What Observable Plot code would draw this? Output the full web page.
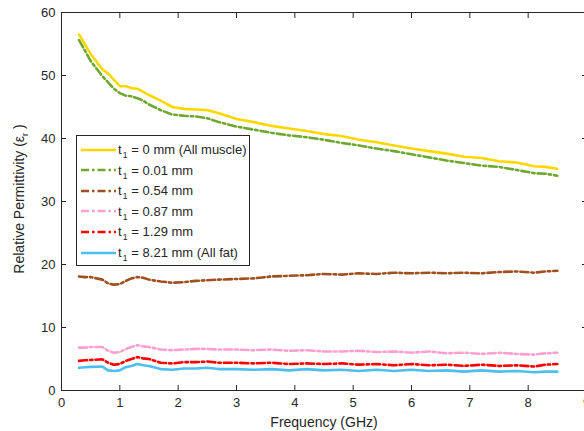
<!DOCTYPE html>
<html><head><meta charset="utf-8">
<script src="https://cdn.jsdelivr.net/npm/d3@7"></script>
<script src="https://cdn.jsdelivr.net/npm/@observablehq/plot@0.6"></script>
<style>
body{margin:0;background:#fff;}
#wrap{position:relative;width:584px;height:431px;}
#legend{position:absolute;left:76px;top:135px;width:174px;height:131px;border:1px solid #262626;background:#fff;font-family:"Liberation Sans",Arial,sans-serif;font-size:13px;color:#262626;box-sizing:border-box;}
.row{position:absolute;left:0;height:20px;display:flex;align-items:center;white-space:nowrap;}
.row svg{margin-left:4px;margin-right:2px;}
.sub{font-size:8.5px;position:relative;top:4px;margin-left:1px;margin-right:4px;}
</style></head>
<body><div id="wrap"></div>
<script>
const freq    = [0.3,0.4,0.5,0.7,0.8,0.9,1.0,1.1,1.2,1.3,1.4,1.5,1.7,1.9,2.1,2.3,2.5,2.7,3.0,3.3,3.6,3.9,4.2,4.5,4.8,5.1,5.4,5.7,6.0,6.3,6.6,6.9,7.2,7.5,7.8,8.1,8.3,8.5];
const muscle  = [56.5,55.0,53.4,51.0,50.3,49.3,48.3,48.3,48.0,47.9,47.4,46.9,46.0,45.0,44.7,44.6,44.5,44.0,43.1,42.6,42.0,41.6,41.2,40.7,40.4,39.8,39.4,38.9,38.4,38.0,37.6,37.1,36.9,36.4,36.2,35.6,35.5,35.2];
const t001    = [55.6,54.0,52.3,49.9,48.9,47.9,47.2,46.8,46.7,46.4,46.0,45.4,44.5,43.8,43.6,43.5,43.2,42.6,41.9,41.4,40.9,40.5,40.2,39.8,39.3,38.9,38.4,38.0,37.5,37.0,36.5,36.1,35.7,35.5,35.0,34.5,34.4,34.1];
const t054    = [18.1,18.0,18.0,17.6,17.0,16.8,16.9,17.4,17.8,18.0,17.9,17.6,17.3,17.1,17.2,17.4,17.5,17.6,17.7,17.8,18.1,18.2,18.3,18.5,18.4,18.6,18.5,18.7,18.6,18.7,18.6,18.7,18.6,18.8,18.9,18.7,18.9,19.0];
const t087    = [6.8,6.8,6.9,6.9,6.3,6.0,6.1,6.6,6.9,7.2,7.0,6.9,6.5,6.4,6.5,6.6,6.6,6.5,6.5,6.4,6.5,6.3,6.4,6.2,6.2,6.3,6.1,6.2,6.0,6.2,5.9,6.0,5.8,6.0,5.8,5.7,5.9,6.0];
const t129    = [4.7,4.8,4.85,4.95,4.4,4.1,4.2,4.7,5.0,5.3,5.1,5.0,4.4,4.3,4.5,4.5,4.6,4.4,4.4,4.3,4.4,4.2,4.3,4.2,4.3,4.1,4.2,4.0,4.2,4.0,4.1,3.9,4.1,3.9,4.0,3.8,4.1,4.2];
const fat     = [3.6,3.7,3.75,3.8,3.2,3.1,3.2,3.7,3.9,4.2,4.0,3.9,3.4,3.3,3.5,3.5,3.6,3.4,3.4,3.3,3.4,3.2,3.4,3.2,3.3,3.1,3.3,3.1,3.3,3.1,3.2,3.0,3.2,3.0,3.1,2.9,3.0,3.0];

const seriesValues = [muscle, t001, t054, t087, t129, fat];
const seriesLabels = ["0 mm (All muscle)", "0.01 mm", "0.54 mm", "0.87 mm", "1.29 mm", "8.21 mm (All fat)"];
const seriesColors = ["#FFD700", "#6FA82E", "#A0501F", "#FF9FD0", "#FF0000", "#4DBEEE"];
const seriesDash   = ["none", "8,3,2.5,3", "8,3,2.5,3", "8,3,2.5,3", "8,3,2.5,3", "none"];
const xTicks = [0,1,2,3,4,5,6,7,8,9];
const yTicks = [0,10,20,30,40,50,60];

const rows = [];
seriesValues.forEach((vals, i) => vals.forEach((v, j) => rows.push({f: freq[j], v, s: i})));

const lineMarks = seriesValues.map((_, i) =>
  Plot.line(rows.filter(d => d.s === i), {
    x: "f", y: "v", stroke: seriesColors[i], strokeWidth: 2.6,
    strokeDasharray: seriesDash[i], strokeLinejoin: "round"
  })
);

const ink = "#262626";
const chart = Plot.plot({
  width: 584, height: 431,
  marginLeft: 61, marginRight: -2, marginTop: 12, marginBottom: 41,
  style: {fontFamily: "'Liberation Sans', Arial, sans-serif", fontSize: "13px", color: ink, background: "white", overflow: "visible"},
  x: {domain: [0, 9]},
  y: {domain: [0, 60]},
  marks: [
    ...lineMarks,
    Plot.frame({stroke: ink}),
    Plot.axisX({ticks: xTicks, tickSize: 0, tickPadding: 7, label: "Frequency (GHz)", labelAnchor: "center", labelArrow: "none", labelOffset: 36, fontSize: 13}),
    Plot.axisX({ticks: xTicks, tickSize: -5, tickFormat: () => "", label: null, stroke: ink}),
    Plot.axisX({anchor: "top", ticks: xTicks, tickSize: -5, tickFormat: () => "", label: null, stroke: ink}),
    Plot.axisY({ticks: yTicks, tickSize: 0, tickPadding: 6, label: null, fontSize: 13}),
    Plot.axisY({ticks: yTicks, tickSize: -5, tickFormat: () => "", label: null, stroke: ink}),
    Plot.axisY({anchor: "right", ticks: yTicks, tickSize: -5, tickFormat: () => "", label: null, stroke: ink})
  ]
});

const wrap = document.getElementById("wrap");
wrap.appendChild(chart);

// x-axis label font size
d3.select(chart).selectAll("g[aria-label='x-axis label'] text").style("font-size", "14px");

// y-axis label with subscript
const yl = d3.select(chart).append("text")
  .attr("transform", "translate(24,199) rotate(-90)")
  .attr("text-anchor", "middle")
  .attr("fill", ink)
  .style("font-size", "14px");
yl.append("tspan").text("Relative Permittivity (ε");
yl.append("tspan").attr("dy", 4).style("font-size", "9px").text("r");
yl.append("tspan").attr("dy", -4).text(" )");

// legend
const legend = d3.select(wrap).append("div").attr("id", "legend");
seriesLabels.forEach((lab, i) => {
  const row = legend.append("div").attr("class", "row").style("top", (3.5 + i * 20.6) + "px");
  const sw = row.append("svg").attr("width", 35).attr("height", 6);
  sw.append("line").attr("x1", 0).attr("x2", 35).attr("y1", 3).attr("y2", 3)
    .attr("stroke", seriesColors[i]).attr("stroke-width", 2.6)
    .attr("stroke-dasharray", seriesDash[i] === "none" ? null : seriesDash[i]);
  const t = row.append("span");
  t.append("span").text("t");
  t.append("span").attr("class", "sub").text("1");
  t.append("span").text("= " + lab);
});
</script>
</body></html>
